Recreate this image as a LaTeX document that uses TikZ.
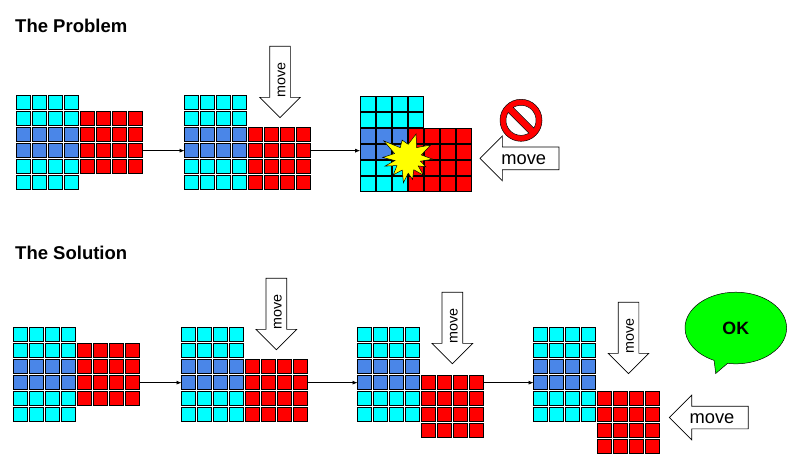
\documentclass[tikz,border=0pt]{standalone}
\usepackage{fontspec}
\setmainfont{Liberation Sans}
\usetikzlibrary{shapes.arrows,shapes.callouts,arrows.meta}
\definecolor{blockcyan}{HTML}{00FFFF}
\definecolor{blockblue}{HTML}{4A86E8}
\definecolor{blockred}{HTML}{FF0000}
\definecolor{okgreen}{HTML}{00FF00}
\definecolor{bangyellow}{HTML}{FFFF00}
\tikzset{
	cell/.style={draw=black, line width=1pt, minimum size=14.3pt, inner sep=0pt, outer sep=0pt},
	cyancell/.style={cell, fill=blockcyan},
	bluecell/.style={cell, fill=blockblue},
	redcell/.style={cell, fill=blockred},
	title/.style={font=\bfseries\fontsize{18.5}{20}\selectfont, anchor=base west, inner sep=0pt},
	movearrow/.style={draw=black, fill=white, line width=0.7pt, single arrow, shape border rotate=180,
		single arrow head indent=0pt, inner sep=0pt, outer sep=0pt, anchor=tip},
	downarrow/.style={movearrow, rotate=90, minimum height=71.5pt, minimum width=40pt,
		inner ysep=10pt, single arrow head extend=10pt},
	leftarrow/.style={movearrow, minimum height=79pt, minimum width=44pt,
		inner ysep=11pt, single arrow head extend=11pt},
	downtext/.style={font=\fontsize{14.3}{16}\selectfont, rotate=90, inner sep=0pt},
	lefttext/.style={font=\fontsize{18.3}{20}\selectfont, inner sep=0pt},
	flow/.style={-{Latex[length=5pt,width=4pt]}, line width=0.7pt}
}
% One block: left part 6 rows at (#2,#3), right part 4 rows at x offset #5, from row offset #4
\newcommand{\block}[5]{
	\foreach \row in {1,...,6}{
		\foreach \col in {1,...,4}{
			\ifnum\row=3 \def\cellstyle{bluecell}\else\ifnum\row=4 \def\cellstyle{bluecell}\else\def\cellstyle{cyancell}\fi\fi
			\node[\cellstyle] (#1l\row\col) at ({#2+16*\col-8.35},{#3+16*\row-8.35}) {};
		}
	}
	\foreach \row in {1,...,4}{
		\foreach \col in {1,...,4}{
			\node[redcell] (#1r\row\col) at ({#2+#5+16*\col-8.35},{#3+16*(\row-1+#4)+7.65}) {};
		}
	}
}
\begin{document}
\begin{tikzpicture}[x=1pt,y=-1pt]
	\useasboundingbox (0,0) rectangle (805,467);
	\node[title] (problem) at (15,32) {The Problem};
	\node[title] (solution) at (15,259) {The Solution};

	% The Problem
	\block{a}{16}{95}{1}{64}
	\block{b}{184}{95}{2}{64}
	\begin{scope}[cell/.append style={minimum size=15pt}]
		\block{c}{360}{96}{2}{48}
	\end{scope}
	\draw[flow] (ar34.east) -- (bl41.west);
	\draw[flow] (br24.east) -- (br24.east -| cl41.west);

	\node[downarrow] (arrowb) at (280,117.7) {};
	\node[downtext] (moveb) at (281.5,80) {move};

	% Bang
	\coordinate (bang) at (407.7,158.3);
	\begin{scope}[shift={(bang)}]
		\draw[fill=bangyellow, line width=0.5pt] (2:25) -- (-14:14) -- (-30:26.6) -- (-50:14) -- (-71:25.7) -- (-88:14)
			-- (-107:19) -- (-125:13) -- (-144:29.6) -- (-160:14) -- (-178:25) -- (170:13) -- (161:24) -- (146:13)
			-- (131:22) -- (115:13) -- (100:24.7) -- (88:15) -- (77:21.6) -- (62:13) -- (47:23) -- (36:13)
			-- (25:20) -- (13:13) -- cycle;
	\end{scope}

	% Stop sign
	\node[circle, draw=black, fill=blockred, line width=0.5pt, minimum size=42pt, inner sep=0pt] (stopsign) at (521,120.3) {};
	\begin{scope}[shift={(stopsign.center)}]
		\foreach \segstart in {58.5,238.5}{
			\pgfmathsetmacro\segend{\segstart+153}
			\draw[fill=white, line width=0.5pt] plot[domain=\segstart:\segend, samples=24] (\x:15) -- cycle;
		}
	\end{scope}

	\node[leftarrow] (arrowc) at (480,158.3) {};
	\node[lefttext] (movec) at (523.7,160) {move};

	% The Solution
	\block{d}{13}{327}{1}{64}
	\block{e}{181}{327}{2}{64}
	\block{f}{357}{327}{3}{64}
	\block{g}{533}{327}{4}{64}
	\draw[flow] (dr34.east) -- (el41.west);
	\draw[flow] (er24.east) -- (fl41.west);
	\draw[flow] (fr14.east) -- (gl41.west);

	\node[downarrow] (arrowe) at (276.3,349.7) {};
	\node[downtext] (movee) at (277.8,312) {move};
	\node[downarrow] (arrowf) at (452.3,363.7) {};
	\node[downtext] (movef) at (453.8,326) {move};
	\node[downarrow] (arrowg) at (628.5,373.7) {};
	\node[downtext] (moveg) at (630,336) {move};

	\node[leftarrow] (arrowh) at (669.3,417.5) {};
	\node[lefttext] (moveh) at (712,419) {move};

	\node[ellipse callout, draw=black, fill=okgreen, line width=0.5pt, minimum width=101.6pt, minimum height=71.6pt,
		inner sep=0pt, callout absolute pointer={(715.7,373.5)}, callout pointer arc=16,
		font=\bfseries\fontsize{17.8}{20}\selectfont] (okbubble) at (735.8,328) {OK};
\end{tikzpicture}
\end{document}
